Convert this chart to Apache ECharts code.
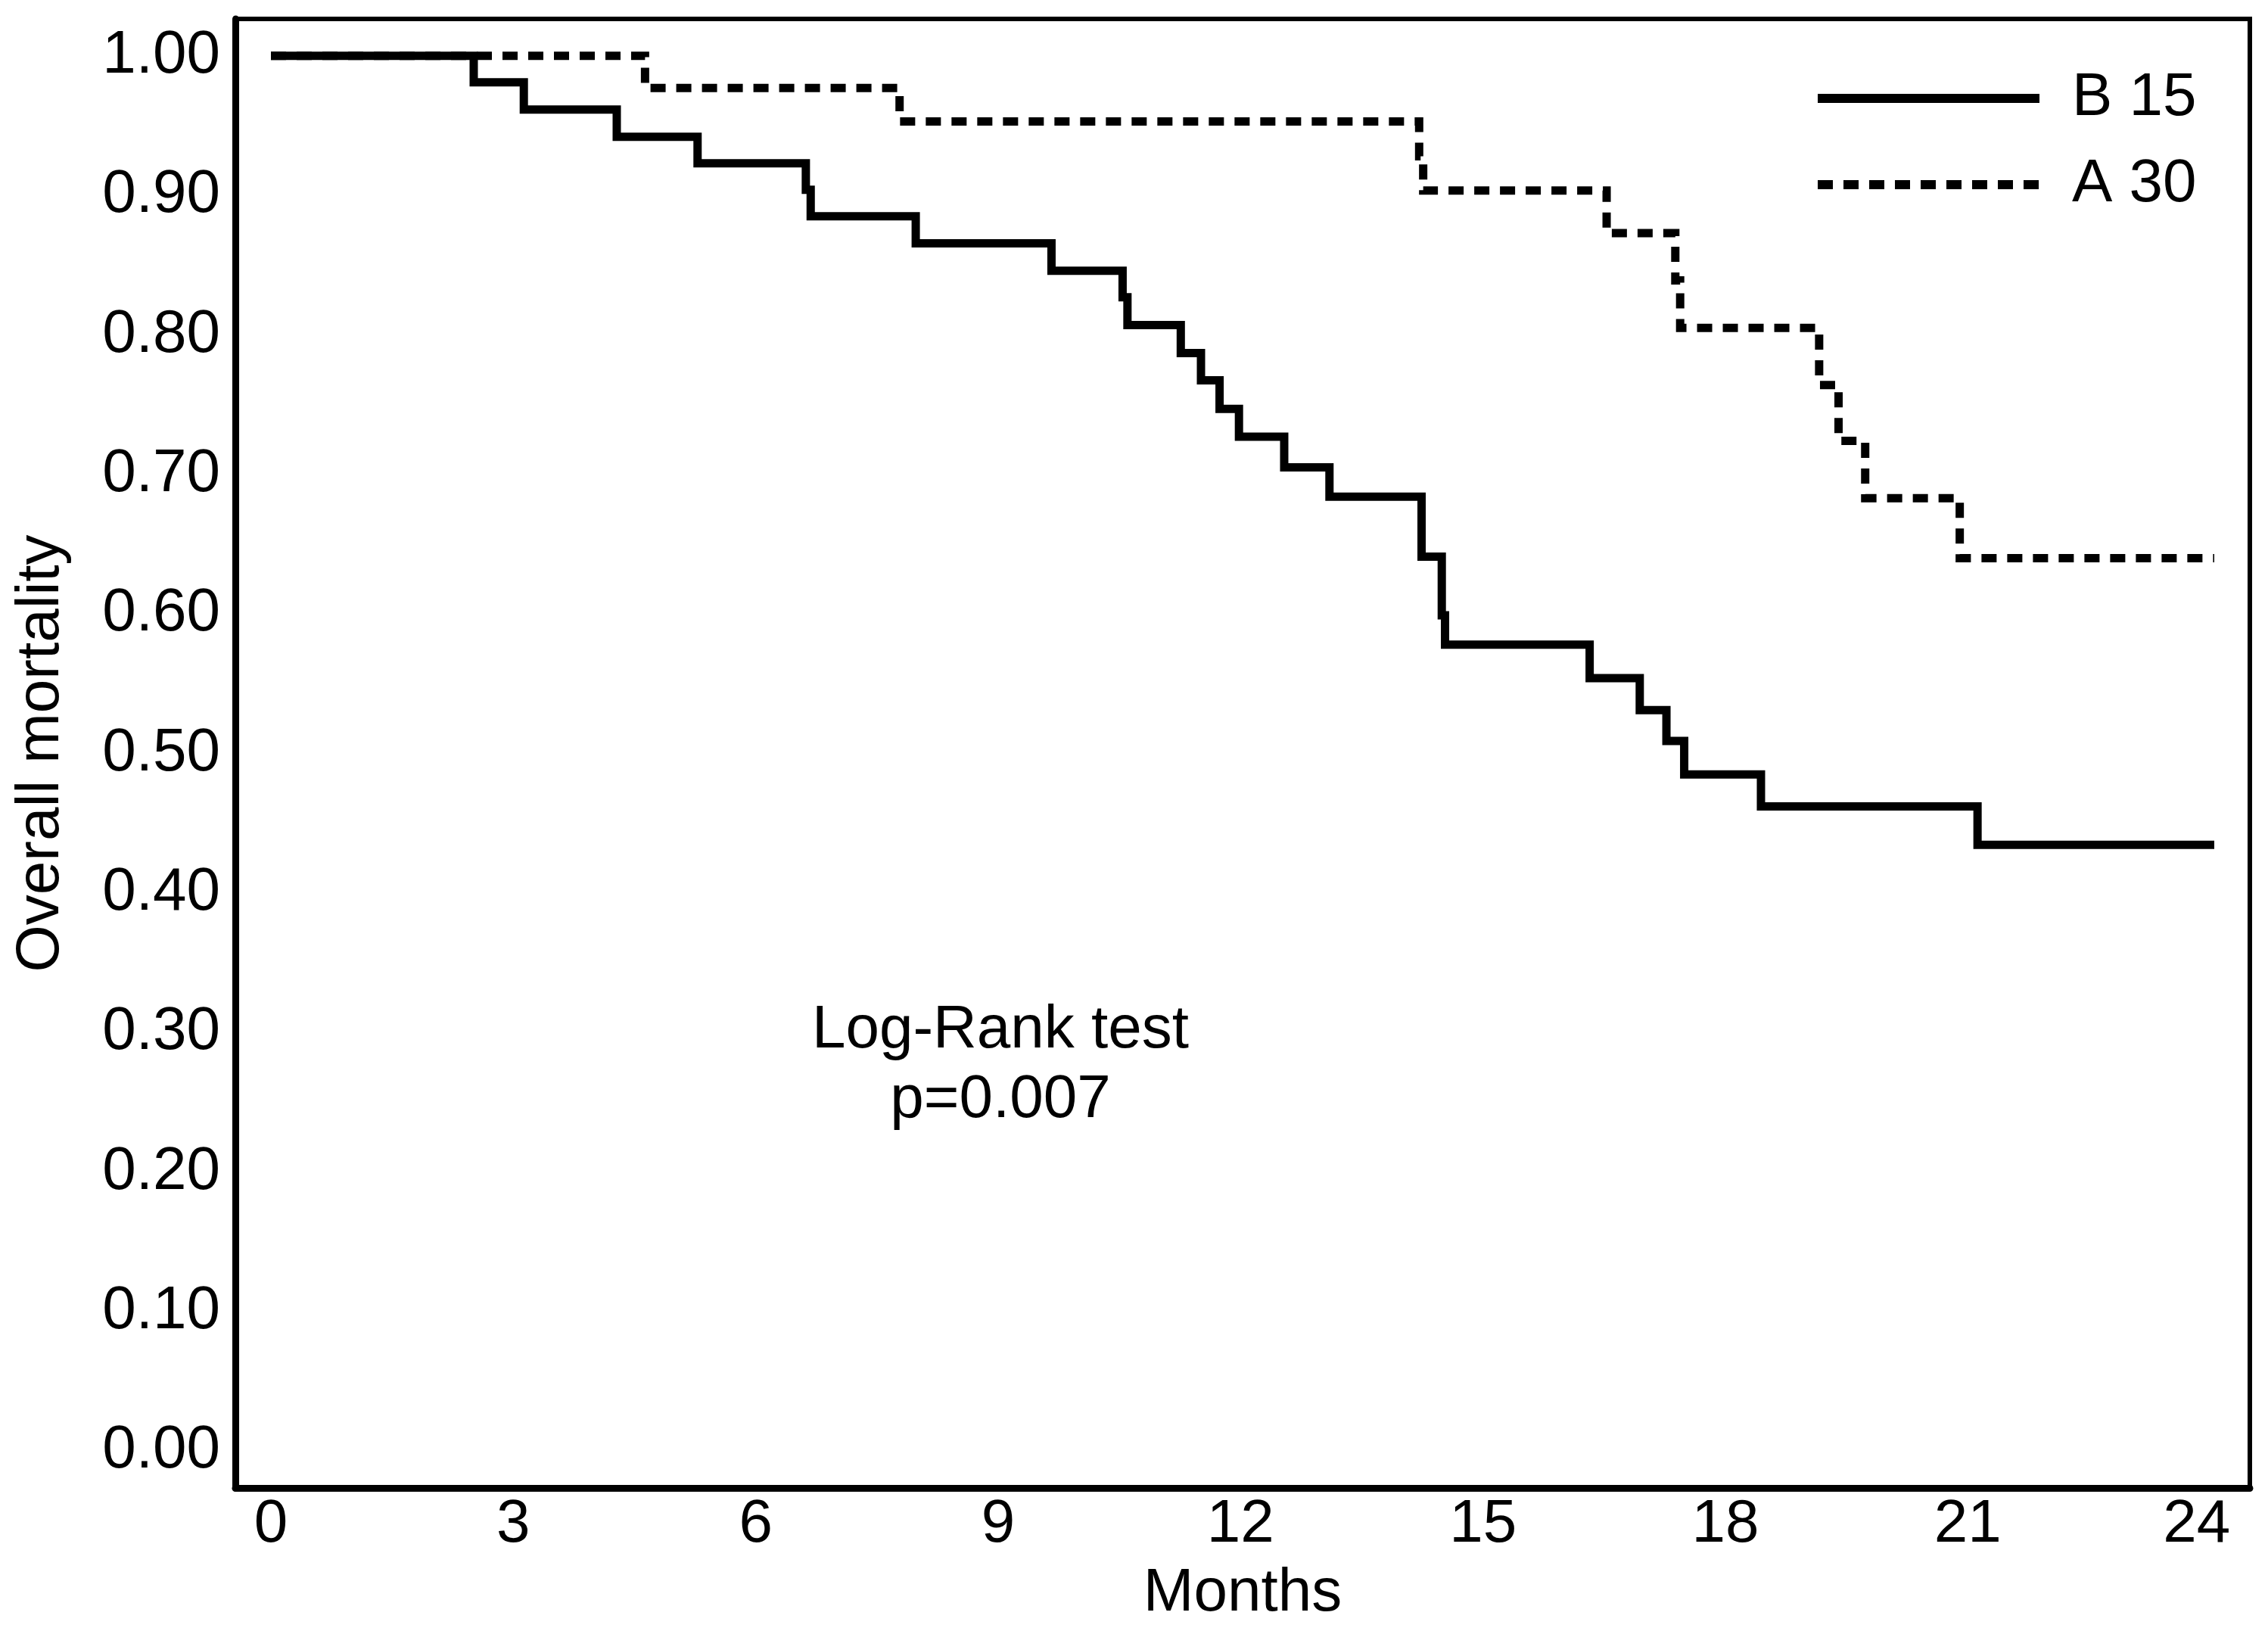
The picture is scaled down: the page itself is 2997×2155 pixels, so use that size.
<!DOCTYPE html>
<html>
<head>
<meta charset="utf-8">
<script src="https://cdn.jsdelivr.net/npm/echarts@6/dist/echarts.min.js"></script>
<style>
html,body{margin:0;padding:0;background:#fff;}
#chart{width:2997px;height:2155px;}
</style>
</head>
<body>
<div id="chart"></div>
<script>
// ---- data ----
const seriesNames = ['B 15', 'A 30'];
// Kaplan-Meier step points [month, value after the step]
const b15Months = [0, 2.51, 3.13, 4.28, 5.28, 6.62, 6.68, 7.98, 9.66, 10.54, 10.60, 11.26, 11.51, 11.74, 11.98, 12.54, 13.10, 14.24, 14.49, 14.53, 16.32, 16.94, 17.27, 17.49, 18.44, 21.12, 24.05];
const b15Values = [1.000, 0.981, 0.9615, 0.942, 0.923, 0.904, 0.885, 0.8656, 0.846, 0.827, 0.807, 0.787, 0.7675, 0.747, 0.727, 0.705, 0.684, 0.641, 0.599, 0.578, 0.554, 0.531, 0.509, 0.485, 0.462, 0.4345, 0.4345];
const a30Months = [0, 4.63, 7.78, 14.21, 14.26, 16.53, 17.38, 17.44, 19.16, 19.40, 19.73, 20.90, 24.05];
const a30Values = [1.000, 0.977, 0.953, 0.928, 0.9035, 0.873, 0.839, 0.805, 0.764, 0.724, 0.683, 0.640, 0.640];
const xTickLabels = [0, 3, 6, 9, 12, 15, 18, 21, 24];
const yTickLabels = [0.0, 0.1, 0.2, 0.3, 0.4, 0.5, 0.6, 0.7, 0.8, 0.9, 1.0];
const xAxisTitle = 'Months';
const yAxisTitle = 'Overall mortality';
const annotationLines = ['Log-Rank test', 'p=0.007'];

// ---- chart ----
const FONT = 'Liberation Sans, Arial, Helvetica, sans-serif';
const FS = 80;
const pair = (xs, ys) => xs.map((x, i) => [x, ys[i]]);
const lastX = xTickLabels[xTickLabels.length - 1];

const chart = echarts.init(document.getElementById('chart'), null, {renderer: 'canvas'});
chart.setOption({
  animation: false,
  backgroundColor: '#ffffff',
  textStyle: {fontFamily: FONT, color: '#000'},
  grid: {
    left: 311, right: 24, top: 25, bottom: 189,
    show: true, borderColor: '#000', borderWidth: 6, backgroundColor: 'transparent'
  },
  legend: {
    data: seriesNames,
    orient: 'vertical',
    left: 2391, top: 85,
    itemWidth: 293, itemHeight: 14, itemGap: 34,
    lineStyle: {width: 12, color: '#000'},
    itemStyle: {opacity: 0},
    textStyle: {fontSize: FS, fontFamily: FONT, color: '#000', padding: [0, 0, 0, 38]},
    selectedMode: false
  },
  xAxis: {
    type: 'value',
    min: -0.44, max: 24.49,
    name: xAxisTitle, nameLocation: 'middle', nameGap: 100,
    nameTextStyle: {fontSize: FS, fontFamily: FONT, color: '#000'},
    axisLine: {show: true, onZero: false, lineStyle: {color: '#000', width: 9}},
    axisTick: {show: false},
    splitLine: {show: false},
    axisLabel: {
      customValues: xTickLabels,
      fontSize: FS, fontFamily: FONT, color: '#000', margin: 9,
      formatter: v => (v === lastX ? '{last|' + v + '}' : String(v)),
      rich: {last: {fontSize: FS, fontFamily: FONT, color: '#000', padding: [0, 36, 0, 0]}}
    }
  },
  yAxis: {
    type: 'value',
    min: -0.0265, max: 1.0265,
    name: yAxisTitle, nameLocation: 'middle', nameGap: 216,
    nameTextStyle: {fontSize: FS, fontFamily: FONT, color: '#000'},
    axisLine: {show: true, onZero: false, lineStyle: {color: '#000', width: 9}},
    axisTick: {show: false},
    splitLine: {show: false},
    axisLabel: {
      customValues: yTickLabels,
      fontSize: FS, fontFamily: FONT, color: '#000', margin: 20,
      formatter: v => Number(v).toFixed(2)
    }
  },
  graphic: [{
    type: 'text',
    x: 1322, y: 1316,
    style: {
      text: annotationLines.join('\n'),
      font: FS + 'px ' + FONT,
      fill: '#000',
      textAlign: 'center',
      textVerticalAlign: 'top',
      lineHeight: 92
    }
  }],
  series: [
    {
      name: seriesNames[0], type: 'line', step: 'end',
      data: pair(b15Months, b15Values),
      symbol: 'none', showSymbol: false,
      lineStyle: {color: '#000', width: 11, type: 'solid', cap: 'butt', join: 'miter'},
      itemStyle: {color: '#000'}
    },
    {
      name: seriesNames[1], type: 'line', step: 'end',
      data: pair(a30Months, a30Values),
      symbol: 'none', showSymbol: false,
      lineStyle: {color: '#000', width: 11, type: [20, 14], cap: 'butt', join: 'miter'},
      itemStyle: {color: '#000'}
    }
  ]
});
</script>
</body>
</html>
